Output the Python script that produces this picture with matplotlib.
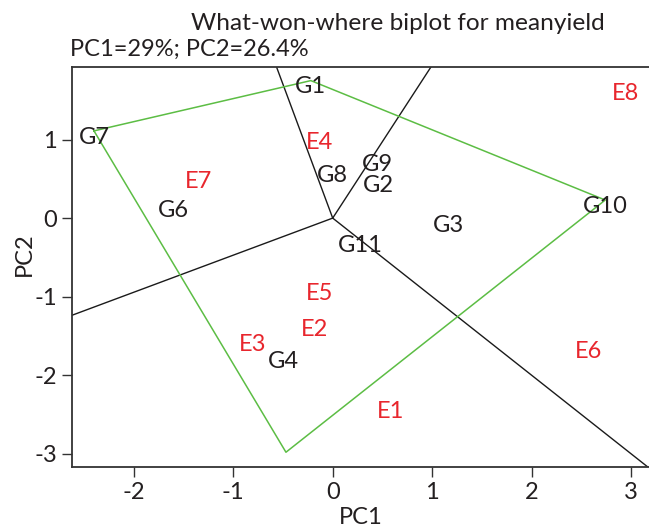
import numpy as np
import matplotlib.pyplot as plt

plt.rcParams['font.family'] = ['Lato', 'DejaVu Sans']
plt.rcParams['axes.unicode_minus'] = False

# genotype scores (PC1, PC2); G5 sits on the hull corner and carries no label
gen_names = ["G1", "G2", "G3", "G4", "G5", "G6", "G7", "G8", "G9", "G10", "G11"]
gen_pc1 = [-0.22, 0.46, 1.16, -0.50, -0.47, -1.60, -2.40, 0.00, 0.45, 2.74, 0.28]
gen_pc2 = [1.75, 0.49, -0.02, -1.75, -2.98, 0.17, 1.11, 0.62, 0.76, 0.23, -0.27]
unlabeled = ["G5"]

# environment scores
env_names = ["E1", "E2", "E3", "E4", "E5", "E6", "E7", "E8"]
env_pc1 = [0.58, -0.18, -0.81, -0.13, -0.13, 2.57, -1.35, 2.94]
env_pc2 = [-2.38, -1.34, -1.53, 1.04, -0.88, -1.62, 0.55, 1.66]

# convex hull vertices, in drawing order
hull = ["G7", "G1", "G10", "G5"]

fig = plt.figure(figsize=(6.49, 5.27), dpi=100)
W, H = 649, 527
ax = fig.add_axes([72.3 / W, (H - 467) / H, (649 - 72.3) / W, (467 - 66.7) / H])

ax.set_xlim(-2.618, 3.18)
ax.set_ylim(-3.168, 1.927)

idx = {n: i for i, n in enumerate(gen_names)}
hx = np.array([gen_pc1[idx[n]] for n in hull])
hy = np.array([gen_pc2[idx[n]] for n in hull])
ax.plot(np.append(hx, hx[0]), np.append(hy, hy[0]), color='#5cbd44', lw=1.1, zorder=2)

# rays from the origin, perpendicular to each hull side
for i in range(len(hull)):
    p = np.array([hx[i], hy[i]])
    q = np.array([hx[(i + 1) % len(hull)], hy[(i + 1) % len(hull)]])
    d = q - p
    t = -np.dot(p, d) / np.dot(d, d)
    foot = p + t * d
    end = foot / np.linalg.norm(foot) * 20
    ax.plot([0, end[0]], [0, end[1]], color='#1a1a1a', lw=1.0, zorder=1)

fs = 17
for n, x, y in zip(gen_names, gen_pc1, gen_pc2):
    if n in unlabeled:
        continue
    ax.annotate(n, (x, y), xytext=(0, -4.5), textcoords='offset points',
                ha='center', va='center', fontsize=fs, color='#231f20', zorder=3)
for n, x, y in zip(env_names, env_pc1, env_pc2):
    ax.annotate(n, (x, y), xytext=(0, -4.5), textcoords='offset points',
                ha='center', va='center', fontsize=fs, color='#e8262d', zorder=3)

ax.spines['right'].set_visible(False)
for s in ['left', 'bottom', 'top']:
    ax.spines[s].set_color('#333333')
    ax.spines[s].set_linewidth(1.3)

ax.set_xticks([-2, -1, 0, 1, 2, 3])
ax.set_yticks([-3, -2, -1, 0, 1])
ax.tick_params(direction='out', length=7, width=1, colors='#333333',
               labelsize=fs, labelcolor='#231f20', pad=4)

fig.text(361 / W, 1 - 517 / H, "PC1", ha='center', va='center', fontsize=fs, color='#231f20')
fig.text(24 / W, 1 - 254 / H, "PC2", ha='center', va='center', rotation=90,
         fontsize=fs, color='#231f20')
fig.text(398 / W, 1 - 23 / H, "What-won-where biplot for meanyield", ha='center',
         va='center', fontsize=17.6, color='#231f20')
fig.text(70 / W, 1 - 49 / H, "PC1=29%; PC2=26.4%", ha='left', va='center',
         fontsize=fs, color='#231f20')

fig.savefig('out.png', dpi=100)
